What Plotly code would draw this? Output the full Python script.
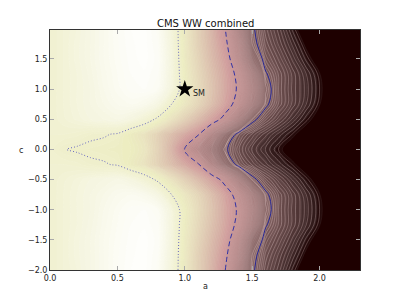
import math
import plotly.graph_objects as go

# ---- data ----
a_vals = [0.0, 0.1, 0.2, 0.3, 0.4, 0.5, 0.6, 0.7, 0.8, 0.9, 1.0, 1.1,
          1.2, 1.3, 1.4, 1.5, 1.6, 1.7, 1.8, 1.9, 2.0, 2.1, 2.2, 2.3]
c_vals = [-2.0, -1.75, -1.5, -1.25, -1.0, -0.75, -0.5, -0.25, 0.0,
          0.25, 0.5, 0.75, 1.0, 1.25, 1.5, 1.75, 2.0]

row_c200 = [0.17, 0.15, 0.13, 0.1, 0.07, 0.04, 0.02, 0.015, 0.045, 0.135, 0.265, 0.37, 0.475, 0.579, 0.725, 0.87, 0.925, 0.955, 0.99, 1.02, 1.04, 1.05, 1.055, 1.06]
row_c175 = [0.17, 0.15, 0.125, 0.1, 0.07, 0.042, 0.022, 0.015, 0.04, 0.13, 0.265, 0.37, 0.465, 0.56, 0.69, 0.86, 0.915, 0.945, 0.975, 1.005, 1.025, 1.04, 1.05, 1.055]
row_c150 = [0.17, 0.15, 0.125, 0.1, 0.07, 0.045, 0.025, 0.015, 0.035, 0.125, 0.26, 0.355, 0.45, 0.535, 0.66, 0.82, 0.9, 0.93, 0.96, 0.99, 1.015, 1.03, 1.04, 1.05]
row_c125 = [0.17, 0.15, 0.13, 0.105, 0.075, 0.05, 0.03, 0.022, 0.04, 0.125, 0.25, 0.34, 0.43, 0.515, 0.61, 0.745, 0.875, 0.915, 0.945, 0.972, 0.999, 1.02, 1.035, 1.045]
row_c100 = [0.17, 0.15, 0.13, 0.11, 0.08, 0.055, 0.035, 0.03, 0.05, 0.13, 0.245, 0.33, 0.42, 0.51, 0.595, 0.72, 0.855, 0.915, 0.945, 0.968, 0.995, 1.02, 1.03, 1.04]
row_c075 = [0.17, 0.15, 0.13, 0.11, 0.09, 0.07, 0.06, 0.073, 0.11, 0.198, 0.275, 0.35, 0.438, 0.527, 0.626, 0.75, 0.87, 0.915, 0.945, 0.972, 0.999, 1.02, 1.035, 1.045]
row_c050 = [0.17, 0.153, 0.137, 0.12, 0.11, 0.10, 0.12, 0.157, 0.215, 0.293, 0.37, 0.448, 0.526, 0.615, 0.74, 0.865, 0.91, 0.94, 0.966, 0.992, 1.012, 1.03, 1.04, 1.05]
row_c025 = [0.17, 0.17, 0.176, 0.19, 0.195, 0.206, 0.25, 0.29, 0.36, 0.435, 0.505, 0.573, 0.70, 0.82, 0.90, 0.93, 0.955, 0.976, 0.996, 1.013, 1.03, 1.038, 1.047, 1.055]
row_c000 = [0.175, 0.198, 0.206, 0.212, 0.218, 0.225, 0.24, 0.275, 0.36, 0.47, 0.589, 0.683, 0.777, 0.871, 0.919, 0.951, 0.973, 0.996, 1.013, 1.03, 1.038, 1.045, 1.053, 1.06]

z_grid = [row_c200, row_c175, row_c150, row_c125, row_c100, row_c075, row_c050, row_c025,
          row_c000,
          row_c025, row_c050, row_c075, row_c100, row_c125, row_c150, row_c175, row_c200]

level_dotted = 0.2
level_dashed = 0.58
level_solid = 0.88

sm_point = (1.0, 1.0)
x_ticks = [0.0, 0.5, 1.0, 1.5, 2.0]
y_ticks = [-2.0, -1.5, -1.0, -0.5, 0.0, 0.5, 1.0, 1.5]


# ---- reversed "pink" colour map with a gentle stretch and light wash ----
def pink_rgb(x):
    hr = min(1.0, 0.0416 + x * (1 - 0.0416) / 0.365079)
    hg = min(1.0, max(0.0, (x - 0.365079) / (0.746032 - 0.365079)))
    hb = min(1.0, max(0.0, (x - 0.746032) / (1 - 0.746032)))
    return [math.sqrt((2 * x + h) / 3) for h in (hr, hg, hb)]


def interp(t, xs, ys):
    if t <= xs[0]:
        return ys[0]
    for i in range(len(xs) - 1):
        if t <= xs[i + 1]:
            f = (t - xs[i]) / (xs[i + 1] - xs[i])
            return ys[i] + f * (ys[i + 1] - ys[i])
    return ys[-1]


stretch_in = [0.0, 0.2, 0.58, 0.88, 1.0]
stretch_out = [0.0, 0.2, 0.68, 0.90, 1.0]
wash_at = [0.0, 0.15, 0.3, 0.85, 0.95, 1.0]
wash_amt = [0.0, 0.0, 0.22, 0.22, 0.08, 0.0]


def cmap(t):
    s = interp(t, stretch_in, stretch_out)
    w = interp(s, wash_at, wash_amt)
    rgb = [(1 - w) * v + w for v in pink_rgb(1 - s)]
    return "rgb(%d,%d,%d)" % tuple(round(v * 255) for v in rgb)


n_stops = 100
colorscale = [[i / n_stops, cmap(i / n_stops)] for i in range(n_stops + 1)]

font = "DejaVu Sans"

fig = go.Figure()
# filled levels
fig.add_trace(go.Contour(
    x=a_vals, y=c_vals, z=z_grid,
    colorscale=colorscale, zmin=0, zmax=1, zauto=False,
    autocontour=False,
    contours=dict(start=0.0, end=1.0, size=0.01, coloring="fill", showlines=True),
    line=dict(color="rgba(255,255,255,0.12)", width=0.5, smoothing=1),
    showscale=False, hoverinfo="skip",
))
# light seams between the upper levels
fig.add_trace(go.Contour(
    x=a_vals, y=c_vals, z=z_grid,
    autocontour=False,
    contours=dict(start=0.86, end=0.998, size=0.0075, coloring="none"),
    line=dict(color="rgba(255,225,225,0.42)", width=0.6, smoothing=1),
    showscale=False, hoverinfo="skip",
))

for lvl, dash, col, w in [(level_dotted, "1px,2px", "rgba(100,100,190,0.95)", 1.0),
                          (level_dashed, "5px,3px", "rgb(50,50,165)", 1.0),
                          (level_solid, "solid", "rgb(40,40,150)", 1.0)]:
    fig.add_trace(go.Contour(
        x=a_vals, y=c_vals, z=z_grid,
        autocontour=False,
        contours=dict(start=lvl, end=lvl, size=0.1, coloring="none"),
        line=dict(color=col, width=w, dash=dash, smoothing=1),
        showscale=False, hoverinfo="skip",
    ))

fig.add_trace(go.Scatter(
    x=[sm_point[0]], y=[sm_point[1]], mode="markers",
    marker=dict(symbol="star", size=13, color="black"),
    hoverinfo="skip", showlegend=False,
))

fig.update_layout(
    width=392, height=292,
    margin=dict(l=42, r=40, t=22, b=30, autoexpand=False),
    paper_bgcolor="white", plot_bgcolor="white",
    showlegend=False,
    font=dict(family=font, size=8, color="#222"),
    annotations=[
        dict(text="CMS WW combined", x=0.5, y=1.0, xref="paper", yref="paper",
             xanchor="center", yanchor="bottom", yshift=-1, showarrow=False,
             font=dict(family=font, size=10, color="#111")),
        dict(text="SM", x=1.045, y=0.93, xref="x", yref="y",
             xanchor="left", yanchor="middle", showarrow=False,
             font=dict(family=font, size=8, color="#222")),
        dict(text="a", x=0.5, y=0, xref="paper", yref="paper",
             xanchor="center", yanchor="top", yshift=-10, showarrow=False,
             font=dict(family=font, size=8, color="#222")),
        dict(text="c", x=0, y=0.5, xref="paper", yref="paper",
             xanchor="right", yanchor="middle", xshift=-25, showarrow=False,
             font=dict(family=font, size=8, color="#222")),
    ],
)
fig.update_xaxes(range=[0, 2.3], tickvals=x_ticks, tickformat=".1f",
                 ticks="inside", ticklen=4, tickcolor="#aaa",
                 showline=True, linecolor="#333", linewidth=1, mirror="ticks",
                 showgrid=False, zeroline=False, automargin=False,
                 tickfont=dict(family=font, size=8, color="#222"))
fig.update_yaxes(range=[-2.0, 1.98], tickvals=y_ticks, tickformat=".1f",
                 ticks="inside", ticklen=4, tickcolor="#aaa",
                 showline=True, linecolor="#333", linewidth=1, mirror="ticks",
                 showgrid=False, zeroline=False, automargin=False,
                 tickfont=dict(family=font, size=8, color="#222"))

fig.write_html("out.html")
